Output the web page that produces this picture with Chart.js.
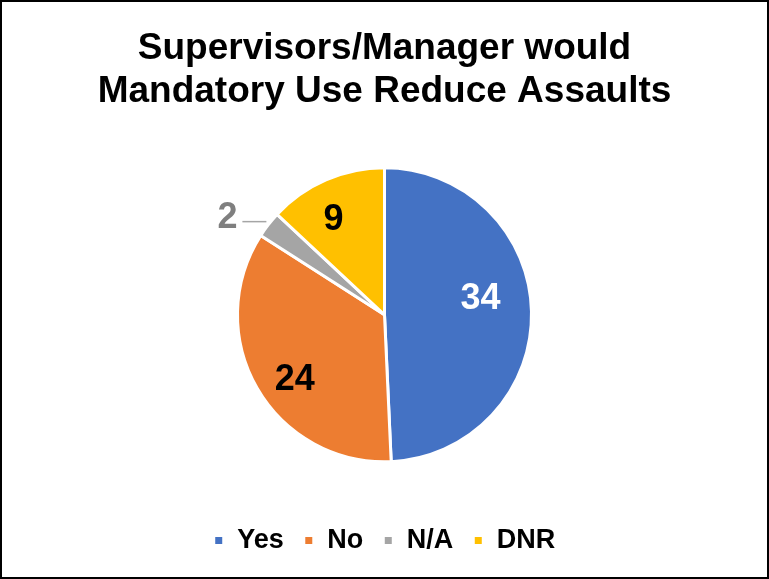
<!DOCTYPE html>
<html>
<head>
<meta charset="utf-8">
<script src="https://cdn.jsdelivr.net/npm/chart.js@4/dist/chart.umd.min.js"></script>
<style>
  html, body { margin: 0; padding: 0; background: #fff; }
  #wrap { position: absolute; left: 0; top: 0; width: 765px; height: 575px; border: 2px solid #000; }
</style>
</head>
<body>
<div id="wrap"><canvas id="chart"></canvas></div>
<script>
// Data
const categories = ['Yes', 'No', 'N/A', 'DNR'];
const counts = [34, 24, 2, 9];
const sliceColors = ['#4472C4', '#ED7D31', '#A5A5A5', '#FFC000'];
const labelColors = ['#ffffff', '#000000', '#7f7f7f', '#000000'];

const FONT = '"Liberation Sans", Arial, sans-serif';

// draws the numbers on / beside the slices
const sliceLabels = {
    id: 'sliceLabels',
    afterDatasetsDraw(chart) {
        const ctx = chart.ctx;
        const arcs = chart.getDatasetMeta(0).data;
        // how far out each label sits (share of radius) + small nudge, like excel's best fit
        const dist = [0.66, 0.76, 0, 0.75];
        const nudgeX = [-1, 7, 0, -7];
        const nudgeY = [-14, 9, 0, 6];
        ctx.save();
        ctx.font = 'bold 36px ' + FONT;
        ctx.textAlign = 'center';
        ctx.textBaseline = 'middle';
        arcs.forEach((arc, i) => {
            const mid = (arc.startAngle + arc.endAngle) / 2;
            ctx.fillStyle = labelColors[i];
            if (i === 2) {
                // small slice: label outside with a leader line
                const ex = arc.x + Math.cos(mid) * arc.outerRadius;
                const ey = arc.y + Math.sin(mid) * arc.outerRadius;
                ctx.strokeStyle = '#A5A5A5';
                ctx.lineWidth = 1.5;
                ctx.beginPath();
                ctx.moveTo(ex - 2, ey - 3);
                ctx.lineTo(ex - 26, ey - 3);
                ctx.stroke();
                ctx.fillText(counts[i], ex - 41, ey - 7);
                return;
            }
            const r = arc.outerRadius * dist[i];
            ctx.fillText(counts[i], arc.x + Math.cos(mid) * r + nudgeX[i], arc.y + Math.sin(mid) * r + nudgeY[i]);
        });
        ctx.restore();
    }
};

const ctx = document.getElementById('chart').getContext('2d');
const myChart = new Chart(ctx, {
    type: 'pie',
    data: {
        labels: categories,
        datasets: [{
            data: counts,
            backgroundColor: sliceColors,
            borderColor: '#ffffff',
            borderWidth: 3,
            radius: 147
        }]
    },
    options: {
        responsive: true,
        maintainAspectRatio: false,
        animation: false,
        layout: { padding: { top: 0, bottom: 13, left: 0, right: 0 } },
        plugins: {
            title: {
                display: true,
                text: ['Supervisors/Manager would', 'Mandatory Use Reduce Assaults'],
                color: '#000',
                font: { family: FONT, size: 37, weight: 'bold', lineHeight: 1.17 },
                padding: { top: 25, bottom: 9 }
            },
            legend: {
                position: 'bottom',
                labels: {
                    color: '#000',
                    boxWidth: 10,
                    boxHeight: 10,
                    padding: 20,
                    font: { family: FONT, size: 27, weight: 'bold' }
                }
            },
            tooltip: { enabled: false }
        }
    },
    plugins: [sliceLabels]
});
</script>
</body>
</html>
